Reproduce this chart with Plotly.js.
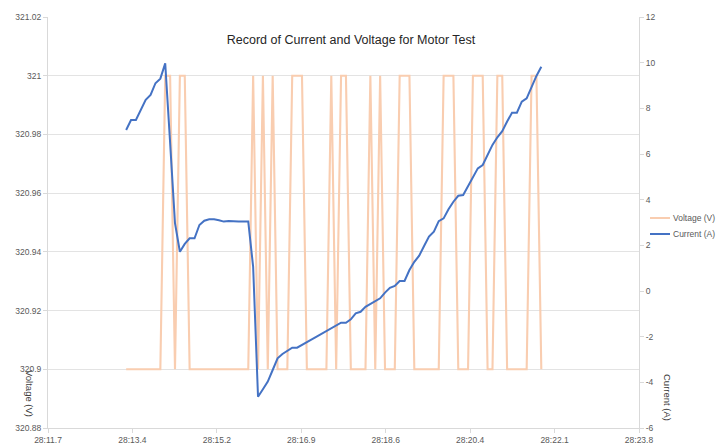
<!DOCTYPE html>
<html>
<head>
<meta charset="utf-8">
<script src="https://cdn.plot.ly/plotly-3.0.1.min.js"></script>
<style>
  html, body { margin: 0; padding: 0; background: #ffffff; }
  #chart { width: 720px; height: 445px; }
</style>
</head>
<body>
<div id="chart"></div>
<script>
// Sample times, seconds after 28:00 (mm:ss.s)
const seconds = [
  13.3, 13.4, 13.5, 13.6, 13.7, 13.8, 13.9, 14.0, 14.1, 14.2,
  14.3, 14.4, 14.5, 14.6, 14.7, 14.8, 14.9, 15.0, 15.1, 15.2,
  15.3, 15.4, 15.5, 15.6, 15.7, 15.8, 15.9, 16.0, 16.1, 16.2,
  16.3, 16.4, 16.5, 16.6, 16.7, 16.8, 16.9, 17.0, 17.1, 17.2,
  17.3, 17.4, 17.5, 17.6, 17.7, 17.8, 17.9, 18.0, 18.1, 18.2,
  18.3, 18.4, 18.5, 18.6, 18.7, 18.8, 18.9, 19.0, 19.1, 19.2,
  19.3, 19.4, 19.5, 19.6, 19.7, 19.8, 19.9, 20.0, 20.1, 20.2,
  20.3, 20.4, 20.5, 20.6, 20.7, 20.8, 20.9, 21.0, 21.1, 21.2,
  21.3, 21.4, 21.5, 21.6, 21.7, 21.8
];

// Voltage (V)
const voltage = [
  320.9, 320.9, 320.9, 320.9, 320.9, 320.9, 320.9, 320.9, 321.0, 321.0,
  320.9, 321.0, 321.0, 320.9, 320.9, 320.9, 320.9, 320.9, 320.9, 320.9,
  320.9, 320.9, 320.9, 320.9, 320.9, 320.9, 321.0, 320.9, 321.0, 320.9,
  321.0, 320.9, 320.9, 320.9, 321.0, 321.0, 321.0, 320.9, 320.9, 320.9,
  320.9, 320.9, 321.0, 320.9, 321.0, 321.0, 320.9, 320.9, 320.9, 320.9,
  321.0, 320.9, 321.0, 320.9, 320.9, 320.9, 321.0, 321.0, 321.0, 320.9,
  320.9, 320.9, 320.9, 320.9, 320.9, 321.0, 321.0, 321.0, 320.9, 320.9,
  320.9, 321.0, 321.0, 321.0, 320.9, 320.9, 321.0, 321.0, 320.9, 320.9,
  320.9, 320.9, 320.9, 321.0, 321.0, 320.9
];

// Current (A)
const current = [
  7.05, 7.49, 7.49, 7.93, 8.37, 8.59, 9.10, 9.30, 9.97, 6.50,
  2.97, 1.72, 2.06, 2.31, 2.31, 2.89, 3.08, 3.14, 3.14, 3.10,
  3.04, 3.07, 3.04, 3.04, 3.04, 3.04, 1.06, -4.63, -4.30, -3.97,
  -3.46, -2.95, -2.76, -2.61, -2.48, -2.48, -2.37, -2.25, -2.12, -2.00,
  -1.88, -1.78, -1.66, -1.52, -1.39, -1.39, -1.24, -0.98, -0.91, -0.69,
  -0.57, -0.47, -0.32, -0.07, 0.14, 0.22, 0.44, 0.44, 0.92, 1.28,
  1.55, 1.97, 2.38, 2.60, 3.06, 3.18, 3.58, 3.91, 4.17, 4.20,
  4.57, 4.94, 5.37, 5.52, 5.96, 6.40, 6.73, 7.00, 7.42, 7.81,
  7.81, 8.29, 8.44, 8.95, 9.42, 9.82
];

// Tick labels
const xTickLabels = ["28:11.7", "28:13.4", "28:15.2", "28:16.9", "28:18.6", "28:20.4", "28:22.1", "28:23.8"];
const vTickLabels = ["320.88", "320.9", "320.92", "320.94", "320.96", "320.98", "321", "321.02"];
const vTickValues = [320.88, 320.90, 320.92, 320.94, 320.96, 320.98, 321.00, 321.02];
const aTickLabels = ["-6", "-4", "-2", "0", "2", "4", "6", "8", "10", "12"];
const aTickValues = [-6, -4, -2, 0, 2, 4, 6, 8, 10, 12];
const seriesNames = ["Voltage (V)", "Current (A)"];
const chartTitle = "Record of Current and Voltage for Motor Test";

const xMin = 11.7, xMax = 23.8;
const xTickVals = xTickLabels.map((_, i) => xMin + (xMax - xMin) * i / (xTickLabels.length - 1));

const VCOLOR = "#F9CDB0";
const ICOLOR = "#4472C4";
const FONT = "Liberation Sans, Arial, sans-serif";
const TICKCOL = "#595959";
const LINECOL = "#d9d9d9";

const traces = [
  {
    x: seconds, y: voltage, name: seriesNames[0], type: "scatter", mode: "lines",
    line: { color: VCOLOR, width: 2.1 }, yaxis: "y", hoverinfo: "x+y"
  },
  {
    x: seconds, y: current, name: seriesNames[1], type: "scatter", mode: "lines",
    line: { color: ICOLOR, width: 2 }, yaxis: "y2", hoverinfo: "x+y"
  }
];

const plotL = 48, plotR = 639, plotT = 17, plotB = 428;
const W = 720, H = 445;
const px2x = p => (p - plotL) / (plotR - plotL);
const px2y = p => (plotB - p) / (plotB - plotT);

const legendRows = [
  { name: seriesNames[0], color: VCOLOR, y: 218, w: 2 },
  { name: seriesNames[1], color: ICOLOR, y: 234, w: 2 }
];

const shapes = legendRows.map(r => ({
  type: "line", xref: "paper", yref: "paper",
  x0: px2x(650), x1: px2x(670), y0: px2y(r.y), y1: px2y(r.y),
  line: { color: r.color, width: r.w }
}));

const annotations = legendRows.map(r => ({
  xref: "paper", yref: "paper", x: px2x(671), y: px2y(r.y),
  xanchor: "left", yanchor: "middle", showarrow: false,
  text: r.name, font: { family: FONT, size: 8.5, color: TICKCOL }
}));

annotations.push({
  xref: "paper", yref: "paper", x: px2x(30), y: px2y(393),
  xanchor: "center", yanchor: "middle", showarrow: false, textangle: 90,
  text: "Voltage (V)", font: { family: FONT, size: 9.5, color: "#404040" }
});
annotations.push({
  xref: "paper", yref: "paper", x: px2x(668), y: px2y(397),
  xanchor: "center", yanchor: "middle", showarrow: false, textangle: 90,
  text: "Current (A)", font: { family: FONT, size: 9.5, color: "#404040" }
});

const layout = {
  width: W, height: H,
  margin: { l: plotL, r: W - plotR, t: plotT, b: H - plotB, pad: 0 },
  paper_bgcolor: "#ffffff", plot_bgcolor: "#ffffff",
  showlegend: false,
  font: { family: FONT, size: 8.5, color: TICKCOL },
  title: {
    text: chartTitle,
    font: { family: FONT, size: 12.5, color: "#262626" },
    xref: "paper", x: px2x(351), xanchor: "center",
    yref: "container", y: 1 - 40 / H, yanchor: "middle"
  },
  xaxis: {
    range: [xMin, xMax], tickmode: "array", tickvals: xTickVals, ticktext: xTickLabels,
    showgrid: false, zeroline: false, showline: true, linecolor: LINECOL, linewidth: 1,
    ticks: "outside", ticklen: 4, tickcolor: LINECOL,
    tickfont: { family: FONT, size: 8.5, color: TICKCOL }
  },
  yaxis: {
    range: [320.88, 321.02], tickmode: "array", tickvals: vTickValues, ticktext: vTickLabels,
    showgrid: true, gridcolor: "#e3e3e3", gridwidth: 1, zeroline: false,
    showline: true, linecolor: LINECOL, linewidth: 1,
    ticks: "outside", ticklen: 4, tickcolor: LINECOL,
    tickfont: { family: FONT, size: 8.5, color: TICKCOL }
  },
  yaxis2: {
    range: [-6, 12], tickmode: "array", tickvals: aTickValues, ticktext: aTickLabels,
    overlaying: "y", side: "right",
    showgrid: false, zeroline: false, showline: true, linecolor: LINECOL, linewidth: 1,
    ticks: "outside", ticklen: 4, tickcolor: LINECOL,
    tickfont: { family: FONT, size: 8.5, color: TICKCOL }
  },
  shapes: shapes,
  annotations: annotations
};

Plotly.newPlot("chart", traces, layout, { displayModeBar: false, staticPlot: true });
</script>
</body>
</html>
